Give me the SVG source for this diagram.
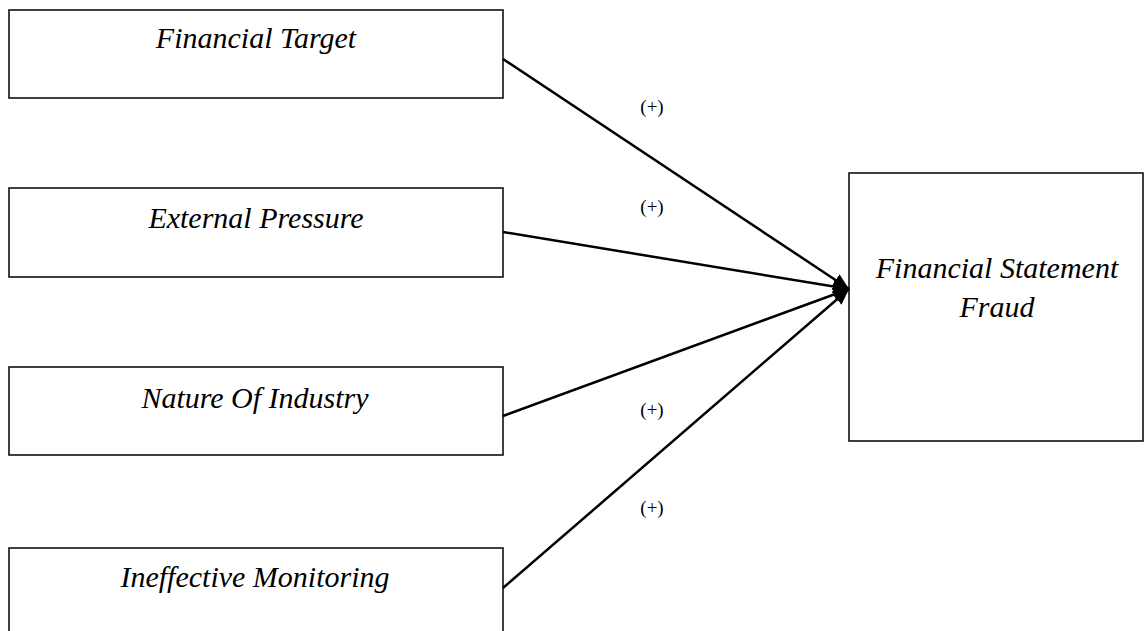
<svg xmlns="http://www.w3.org/2000/svg" width="1144" height="631" viewBox="0 0 1144 631">
<style>
.box{fill:#fff;stroke:#111;stroke-width:1.6}
.lbl{font-family:"Liberation Serif","Times New Roman",serif;font-style:italic;font-size:30px;fill:#000;text-anchor:middle}
.sign{font-family:"Liberation Serif","Times New Roman",serif;font-size:19px;fill:#000;text-anchor:middle}
.conn{stroke:#000;stroke-width:2.5;fill:none}
</style>
<defs>
<marker id="ah" markerUnits="userSpaceOnUse" markerWidth="20" markerHeight="20" refX="16" refY="7" orient="auto">
<path d="M0,0 L16,7 L0,14 Z" fill="#000"/>
</marker>
</defs>
<g id="financial-target">
<rect class="box" x="9" y="10" width="494" height="88"/>
<text class="lbl" x="256" y="48">Financial Target</text>
</g>
<g id="external-pressure">
<rect class="box" x="9" y="188" width="494" height="89"/>
<text class="lbl" x="256" y="228">External Pressure</text>
</g>
<g id="nature-of-industry">
<rect class="box" x="9" y="367" width="494" height="88"/>
<text class="lbl" x="255" y="408">Nature Of Industry</text>
</g>
<g id="ineffective-monitoring">
<rect class="box" x="9" y="548" width="494" height="100"/>
<text class="lbl" x="255" y="587">Ineffective Monitoring</text>
</g>
<g id="financial-statement-fraud">
<rect class="box" x="849" y="173" width="294" height="268"/>
<text class="lbl" x="997" y="278">Financial Statement</text>
<text class="lbl" x="997" y="317">Fraud</text>
</g>
<g id="connectors">
<line class="conn" x1="503" y1="59" x2="849" y2="289" marker-end="url(#ah)"/>
<line class="conn" x1="503" y1="232" x2="849" y2="289" marker-end="url(#ah)"/>
<line class="conn" x1="503" y1="416" x2="849" y2="289" marker-end="url(#ah)"/>
<line class="conn" x1="503" y1="588" x2="849" y2="289" marker-end="url(#ah)"/>
<text class="sign" x="652" y="113">(+)</text>
<text class="sign" x="652" y="213">(+)</text>
<text class="sign" x="652" y="416">(+)</text>
<text class="sign" x="652" y="514">(+)</text>
</g>
</svg>
